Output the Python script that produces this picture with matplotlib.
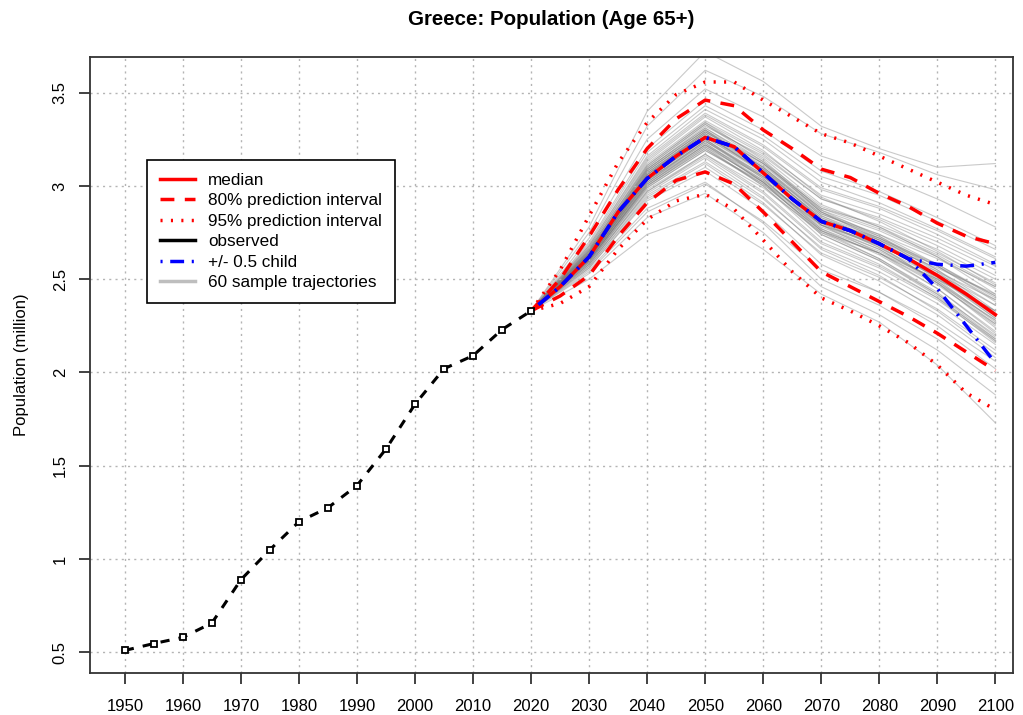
import numpy as np
import matplotlib.pyplot as plt
from matplotlib.lines import Line2D

plt.rcParams['font.family'] = ['Liberation Sans', 'DejaVu Sans']

# observed population 65+ (million)
obs_years = list(range(1950, 2021, 5))
obs_vals = [0.51, 0.547, 0.58, 0.657, 0.889, 1.05, 1.20, 1.275, 1.394,
            1.59, 1.83, 2.02, 2.09, 2.23, 2.33]

# projections, 5-year steps
proj_years = list(range(2020, 2101, 5))
median = [2.33, 2.46, 2.62, 2.86, 3.04, 3.16, 3.26, 3.21, 3.07, 2.93, 2.81,
          2.76, 2.69, 2.61, 2.52, 2.42, 2.31]
pi80_up = [2.33, 2.50, 2.73, 2.98, 3.20, 3.36, 3.46, 3.43, 3.30, 3.20, 3.09,
           3.045, 2.96, 2.89, 2.80, 2.73, 2.69]
pi80_lo = [2.33, 2.41, 2.52, 2.73, 2.91, 3.03, 3.075, 3.01, 2.86, 2.70, 2.54,
           2.46, 2.38, 2.30, 2.21, 2.11, 2.01]
pi95_up = [2.33, 2.55, 2.84, 3.125, 3.34, 3.49, 3.557, 3.557, 3.46, 3.37,
           3.28, 3.23, 3.16, 3.09, 3.02, 2.95, 2.90]
pi95_lo = [2.33, 2.37, 2.46, 2.66, 2.82, 2.92, 2.955, 2.875, 2.71, 2.54,
           2.40, 2.33, 2.25, 2.16, 2.04, 1.89, 1.80]
half_up = [2.33, 2.46, 2.62, 2.86, 3.04, 3.16, 3.26, 3.21, 3.07, 2.93, 2.81,
           2.76, 2.69, 2.61, 2.58, 2.57, 2.59]
half_lo = [2.33, 2.46, 2.62, 2.86, 3.04, 3.16, 3.26, 3.21, 3.07, 2.93, 2.81,
           2.76, 2.69, 2.61, 2.45, 2.25, 2.05]

# sample trajectories, 10-year steps 2030..2100 (all start at 2.33 in 2020)
traj_years = list(range(2020, 2101, 10))
trajectories = [
    [2.62, 3.05, 3.27, 3.08, 2.83, 2.70, 2.52, 2.30],
    [2.60, 3.00, 3.20, 3.00, 2.74, 2.60, 2.42, 2.20],
    [2.65, 3.10, 3.33, 3.15, 2.90, 2.78, 2.62, 2.42],
    [2.58, 2.96, 3.15, 2.94, 2.66, 2.52, 2.33, 2.10],
    [2.63, 3.06, 3.29, 3.12, 2.88, 2.79, 2.66, 2.50],
    [2.61, 3.02, 3.24, 3.04, 2.77, 2.63, 2.45, 2.22],
    [2.67, 3.14, 3.38, 3.21, 2.98, 2.88, 2.74, 2.58],
    [2.59, 2.99, 3.19, 3.01, 2.76, 2.64, 2.48, 2.28],
    [2.64, 3.08, 3.30, 3.10, 2.84, 2.70, 2.50, 2.27],
    [2.56, 2.92, 3.08, 2.87, 2.58, 2.43, 2.25, 2.02],
    [2.70, 3.20, 3.46, 3.30, 3.08, 2.97, 2.83, 2.68],
    [2.62, 3.04, 3.25, 3.06, 2.80, 2.68, 2.53, 2.36],
    [2.60, 3.01, 3.22, 3.05, 2.82, 2.72, 2.58, 2.41],
    [2.66, 3.11, 3.34, 3.14, 2.87, 2.73, 2.55, 2.33],
    [2.55, 2.88, 3.02, 2.80, 2.50, 2.36, 2.18, 1.95],
    [2.63, 3.07, 3.28, 3.09, 2.85, 2.74, 2.61, 2.46],
    [2.61, 3.03, 3.23, 3.02, 2.75, 2.61, 2.43, 2.19],
    [2.68, 3.16, 3.41, 3.25, 3.02, 2.91, 2.77, 2.62],
    [2.59, 2.98, 3.17, 2.97, 2.70, 2.57, 2.40, 2.18],
    [2.64, 3.09, 3.31, 3.13, 2.89, 2.78, 2.64, 2.48],
    [2.62, 3.04, 3.26, 3.07, 2.81, 2.67, 2.49, 2.26],
    [2.57, 2.94, 3.12, 2.91, 2.63, 2.49, 2.31, 2.08],
    [2.65, 3.09, 3.32, 3.16, 2.93, 2.83, 2.70, 2.55],
    [2.60, 3.00, 3.21, 3.03, 2.79, 2.68, 2.54, 2.39],
    [2.75, 3.32, 3.62, 3.48, 3.28, 3.18, 3.06, 2.98],
    [2.63, 3.06, 3.28, 3.07, 2.79, 2.64, 2.45, 2.21],
    [2.61, 3.02, 3.22, 3.02, 2.77, 2.65, 2.50, 2.33],
    [2.66, 3.12, 3.35, 3.18, 2.95, 2.85, 2.72, 2.57],
    [2.58, 2.97, 3.16, 2.96, 2.69, 2.56, 2.39, 2.17],
    [2.64, 3.07, 3.29, 3.10, 2.86, 2.74, 2.58, 2.40],
    [2.50, 2.74, 2.85, 2.66, 2.42, 2.27, 2.04, 1.73],
    [2.62, 3.05, 3.27, 3.09, 2.84, 2.72, 2.57, 2.38],
    [2.69, 3.18, 3.43, 3.27, 3.05, 2.95, 2.81, 2.66],
    [2.60, 3.01, 3.21, 3.00, 2.72, 2.58, 2.40, 2.16],
    [2.63, 3.07, 3.29, 3.11, 2.87, 2.76, 2.62, 2.45],
    [2.61, 3.03, 3.24, 3.05, 2.80, 2.67, 2.51, 2.31],
    [2.67, 3.13, 3.37, 3.19, 2.94, 2.81, 2.65, 2.47],
    [2.57, 2.95, 3.13, 2.93, 2.67, 2.54, 2.37, 2.15],
    [2.64, 3.08, 3.30, 3.12, 2.88, 2.77, 2.63, 2.46],
    [2.62, 3.04, 3.25, 3.04, 2.76, 2.61, 2.42, 2.18],
    [2.59, 2.99, 3.19, 3.02, 2.79, 2.69, 2.56, 2.42],
    [2.65, 3.10, 3.33, 3.13, 2.86, 2.71, 2.52, 2.29],
    [2.72, 3.25, 3.52, 3.37, 3.16, 3.06, 2.93, 2.78],
    [2.60, 3.00, 3.20, 3.01, 2.76, 2.64, 2.47, 2.26],
    [2.63, 3.06, 3.27, 3.08, 2.82, 2.69, 2.51, 2.29],
    [2.54, 2.86, 3.01, 2.81, 2.55, 2.43, 2.27, 2.06],
    [2.66, 3.11, 3.34, 3.17, 2.93, 2.82, 2.68, 2.52],
    [2.61, 3.02, 3.23, 3.03, 2.78, 2.66, 2.49, 2.28],
    [2.64, 3.08, 3.30, 3.09, 2.82, 2.68, 2.48, 2.24],
    [2.58, 2.97, 3.17, 2.99, 2.75, 2.64, 2.50, 2.33],
    [2.62, 3.05, 3.26, 3.08, 2.83, 2.71, 2.55, 2.36],
    [2.68, 3.15, 3.39, 3.22, 2.99, 2.89, 2.76, 2.61],
    [2.60, 3.01, 3.22, 3.02, 2.74, 2.60, 2.41, 2.17],
    [2.63, 3.06, 3.28, 3.10, 2.85, 2.73, 2.57, 2.39],
    [2.56, 2.93, 3.10, 2.90, 2.64, 2.51, 2.34, 2.12],
    [2.65, 3.09, 3.31, 3.12, 2.86, 2.72, 2.54, 2.32],
    [2.61, 3.03, 3.24, 3.06, 2.82, 2.71, 2.57, 2.41],
    [2.53, 2.83, 2.96, 2.75, 2.46, 2.31, 2.12, 1.88],
    [2.78, 3.40, 3.72, 3.56, 3.32, 3.20, 3.10, 3.12],
    [2.62, 3.04, 3.25, 3.05, 2.79, 2.66, 2.48, 2.25],
]

fig = plt.figure(figsize=(10.23, 7.15), dpi=100)
ax = fig.add_axes([0.088, 0.059, 0.902, 0.861])

for tr in trajectories:
    ax.plot(traj_years, [obs_vals[-1]] + tr, color='#7a7a7a', lw=0.8, alpha=0.4, zorder=1)

ax.plot(proj_years, median, color='red', lw=2.5, zorder=4)
ax.plot(proj_years, pi80_up, color='red', lw=2.5, ls=(0, (4, 3)), zorder=4)
ax.plot(proj_years, pi80_lo, color='red', lw=2.5, ls=(0, (4, 3)), zorder=4)
ax.plot(proj_years, pi95_up, color='red', lw=2.5, ls=(0, (0.6, 2.4)), zorder=4)
ax.plot(proj_years, pi95_lo, color='red', lw=2.5, ls=(0, (0.6, 2.4)), zorder=4)
ax.plot(proj_years, half_up, color='blue', lw=2.5, ls=(0, (0.6, 2.2, 4, 2.2)), zorder=5)
ax.plot(proj_years, half_lo, color='blue', lw=2.5, ls=(0, (0.6, 2.2, 4, 2.2)), zorder=5)

ax.plot(obs_years, obs_vals, color='black', lw=2.2, ls=(0, (3, 3)), marker='s',
        ms=4.5, mfc='white', mec='black', mew=1.3, zorder=6)

ax.set_xlim(1944, 2103)
ax.set_ylim(0.39, 3.69)
ax.set_xticks(range(1950, 2101, 10))
ax.set_yticks([0.5, 1, 1.5, 2, 2.5, 3, 3.5])
ax.set_yticklabels(['0.5', '1', '1.5', '2', '2.5', '3', '3.5'], rotation=90, va='center')
ax.tick_params(labelsize=12, length=8, width=1.3, direction='out', pad=8,
               color='#333333')
ax.tick_params(axis='x', pad=11)
ax.grid(True, color='#b4b4b4', ls=(0, (1.5, 3)), lw=1)
for s in ax.spines.values():
    s.set_linewidth(1.3)
    s.set_color('#333333')
ax.set_ylabel('Population (million)', fontsize=12, labelpad=17)
ax.set_title('Greece: Population (Age 65+)', fontsize=14.8, fontweight='bold', pad=23)

handles = [
    Line2D([], [], color='red', lw=2.5),
    Line2D([], [], color='red', lw=2.5, ls=(0, (4, 3))),
    Line2D([], [], color='red', lw=2.5, ls=(0, (0.6, 2.4))),
    Line2D([], [], color='black', lw=2.5),
    Line2D([], [], color='blue', lw=2.5, ls=(0, (0.6, 2.2, 4, 2.2))),
    Line2D([], [], color='#bebebe', lw=2.5),
]
labels = ['median', '80% prediction interval', '95% prediction interval',
          'observed', '+/- 0.5 child', '60 sample trajectories']
leg = ax.legend(handles, labels, loc='upper left', bbox_to_anchor=(0.062, 0.833),
                fontsize=12.3, frameon=True, fancybox=False, framealpha=1,
                edgecolor='black', handlelength=2.05, labelspacing=0.32,
                borderpad=0.75, handletextpad=0.75, borderaxespad=0)
leg.get_frame().set_linewidth(1.2)

fig.savefig('out.png', dpi=100)
